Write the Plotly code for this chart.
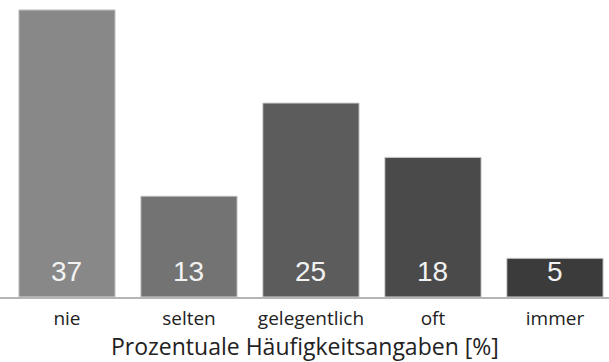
import plotly.graph_objects as go

categories = ["nie", "selten", "gelegentlich", "oft", "immer"]
values = [37, 13, 25, 18, 5]
bar_colors = ["#888888", "#737373", "#5c5c5c", "#4a4a4a", "#3b3b3b"]
x_title = "Prozentuale Häufigkeitsangaben [%]"

fig = go.Figure(
    go.Bar(
        x=categories,
        y=values,
        width=0.79,
        marker=dict(color=bar_colors, line=dict(color="#d8d8d8", width=1)),
        hoverinfo="x+y",
    )
)

# value labels near bar bottoms
for cat, val in zip(categories, values):
    fig.add_annotation(
        x=cat, y=0, xref="x", yref="y",
        text=str(val), showarrow=False,
        yanchor="middle", yshift=26,
        font=dict(family="Liberation Sans, Arial", size=28, color="#f2f2f2"),
    )

# axis title
fig.add_annotation(
    x=0.5, y=0, xref="paper", yref="paper",
    text=x_title, showarrow=False,
    xanchor="center", yanchor="middle", yshift=-49,
    font=dict(family="Open Sans, sans-serif", size=23, color="#222222"),
)

fig.update_layout(
    width=609,
    height=362,
    margin=dict(l=0, r=0, t=0, b=65),
    paper_bgcolor="white",
    plot_bgcolor="white",
    showlegend=False,
    xaxis=dict(
        range=[-0.549, 4.443],
        showgrid=False,
        showline=True,
        linecolor="#b5b5b5",
        linewidth=1.5,
        ticks="",
        ticklabelstandoff=3,
        tickfont=dict(family="Open Sans, sans-serif", size=19, color="#222222"),
    ),
    yaxis=dict(
        range=[0, 38.27],
        visible=False,
    ),
)

fig.write_html("out.html")
